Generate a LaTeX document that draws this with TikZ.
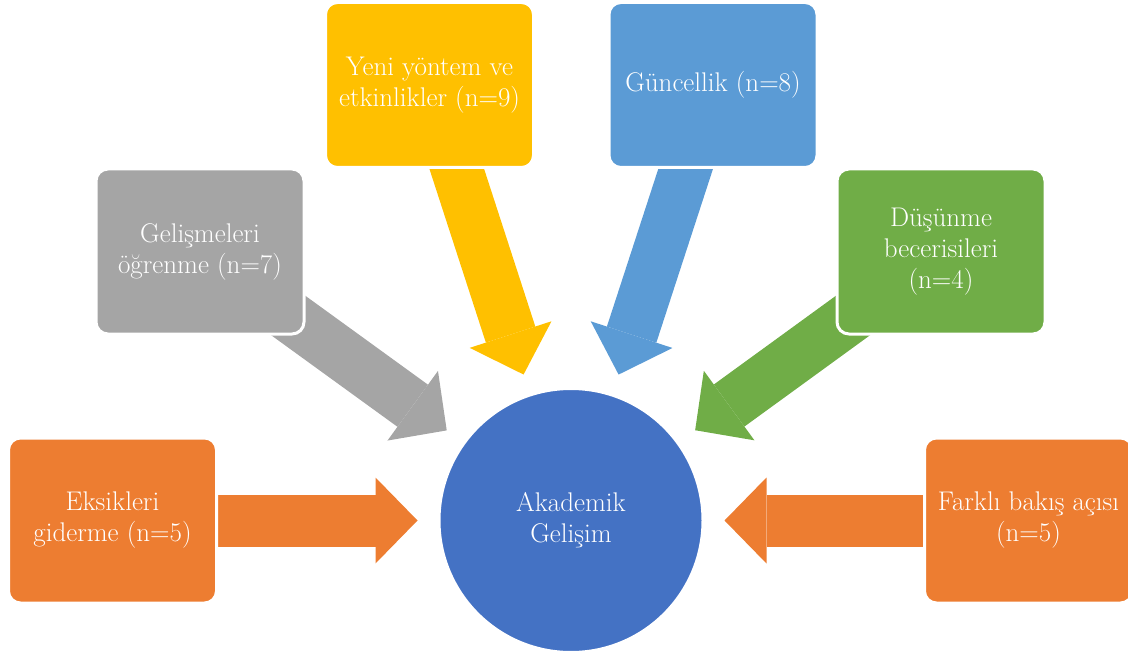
\documentclass[tikz,border=0pt]{standalone}
\usepackage{fontspec}
\usetikzlibrary{arrows.meta,backgrounds}
\definecolor{turuncu}{HTML}{ED7D31}
\definecolor{gri}{HTML}{A5A5A5}
\definecolor{sari}{HTML}{FFC000}
\definecolor{acikmavi}{HTML}{5B9BD5}
\definecolor{yesil}{HTML}{70AD47}
\definecolor{mavi}{HTML}{4472C4}
\tikzset{
	kutu/.style={rectangle,rounded corners=12pt,minimum width=208pt,minimum height=165pt,
		draw=white,line width=3pt,text=white,align=center,font=\fontsize{27}{31}\selectfont},
	pil/.style={line width=52pt,-{Triangle[length=42pt,width=86pt,line width=0pt]},shorten >=20pt}
}
\begin{document}
\begin{tikzpicture}[x=1pt,y=-1pt]
	\useasboundingbox (0,0) rectangle (1128,655);
	\node[kutu,fill=turuncu] (eks) at (112.5,520.5) {Eksikleri\\giderme (n=5)};
	\node[kutu,fill=gri] (gel) at (200,251.5) {Gelişmeleri\\öğrenme (n=7)};
	\node[kutu,fill=sari] (yeni) at (429.5,85) {Yeni yöntem ve\\etkinlikler (n=9)};
	\node[kutu,fill=acikmavi] (gun) at (713,85) {Güncellik (n=8)};
	\node[kutu,fill=yesil] (dus) at (941,251.5) {Düşünme\\becerisileri\\(n=4)};
	\node[kutu,fill=turuncu] (fark) at (1028.5,520.5) {Farklı bakış açısı\\(n=5)};
	\node[circle,fill=mavi,draw=white,line width=3pt,minimum size=264pt,text=white,
		align=center,font=\fontsize{27}{31}\selectfont] (ak) at (571,520.5) {Akademik\\Gelişim};
	\begin{scope}[on background layer]
		\draw[pil,turuncu] (eks.center)--(ak);
		\draw[pil,gri] (gel.center)--(ak);
		\draw[pil,sari] (yeni.center)--(ak);
		\draw[pil,acikmavi] (gun.center)--(ak);
		\draw[pil,yesil] (dus.center)--(ak);
		\draw[pil,turuncu] (fark.center)--(ak);
	\end{scope}
\end{tikzpicture}
\end{document}
